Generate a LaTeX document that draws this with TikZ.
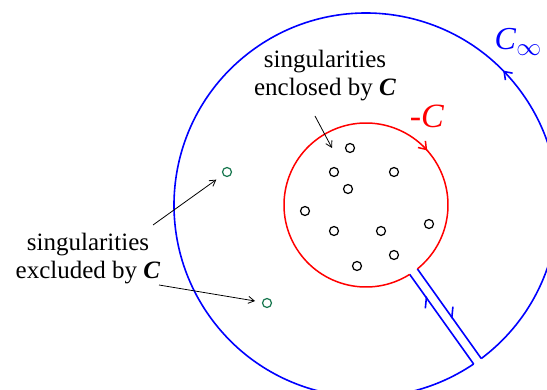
\documentclass[tikz,border=0pt]{standalone}
\usepackage{fontspec}
\setmainfont{Liberation Serif}
\usetikzlibrary{arrows.meta,decorations.markings,calc}
\definecolor{singgreen}{RGB}{25,120,80}
\tikzset{
  sing/.style={circle,draw,line width=1.2pt,minimum size=9pt,inner sep=0pt},
  lbl/.style={align=center,inner sep=0pt,font=\fontsize{25}{28}\selectfont},
  ptr/.style={-{Straight Barb[length=6pt,width=7pt]},line width=0.8pt},
  markarr/.style={decoration={markings,
    mark=at position #1 with {\arrow{Straight Barb[length=7pt,width=10pt]}}},postaction={decorate}},
  markharp/.style={decoration={markings,
    mark=at position #1 with {\arrow{Straight Barb[left,length=8pt,width=14pt]}}},postaction={decorate}}}

\begin{document}
\begin{tikzpicture}[x=1pt,y=-1pt]
  \useasboundingbox (0,0) rectangle (547,390);
  \coordinate (O) at (366,205);
  % outer contour and the cut
  \draw[blue, line width=1.6pt, markarr=0.273] ($(O)+(413.1:192)$) arc (413.1:55.9:192);
  \draw[blue, line width=1.6pt, markharp=0.76] ($(O)+(55.9:192)$) -- ($(O)+(57.8:82)$);
  \draw[blue, line width=1.6pt, markharp=0.56] ($(O)+(51.2:82)$) -- ($(O)+(53.1:192)$);
  % inner contour
  \draw[red, line width=1.5pt, markarr=0.737] ($(O)+(57.8:82)$) arc (57.8:411.2:82);
  % singularities inside
  \foreach \p [count=\i] in {(350,148),(334,172),(394,172),(348,189),(305,211),
                             (334,231),(381,231),(429,224),(394,255),(357,266)}
    \node[sing] (s\i) at \p {};
  % singularities outside
  \node[sing, singgreen] (g1) at (227,172) {};
  \node[sing, singgreen] (g2) at (267,303) {};
  % labels
  \node[lbl] (enclosed) at (325,76) {singularities\\enclosed by \textbf{\textit{C}}};
  \node[lbl] (excluded) at (88,259) {singularities\\excluded by \textbf{\textit{C}}};
  \node[red, inner sep=0pt, font=\fontsize{34}{34}\selectfont] (minusC) at (427,116) {-\textit{C}};
  \node[blue, inner sep=0pt, font=\fontsize{32}{32}\selectfont] (Cinf) at (518,42)
    {\textit{C}\raisebox{-6pt}{\fontsize{24}{24}\selectfont$\infty$}};
  % pointers
  \coordinate (encStart) at (315,116);
  \coordinate (encTip) at (332,148);
  \coordinate (excStart1) at (153,225);
  \coordinate (excStart2) at (159,285);
  \draw[ptr] (encStart) -- (encTip);
  \draw[ptr, shorten >=8pt] (excStart1) -- (g1);
  \draw[ptr, shorten >=7pt] (excStart2) -- (g2);
\end{tikzpicture}
\end{document}
